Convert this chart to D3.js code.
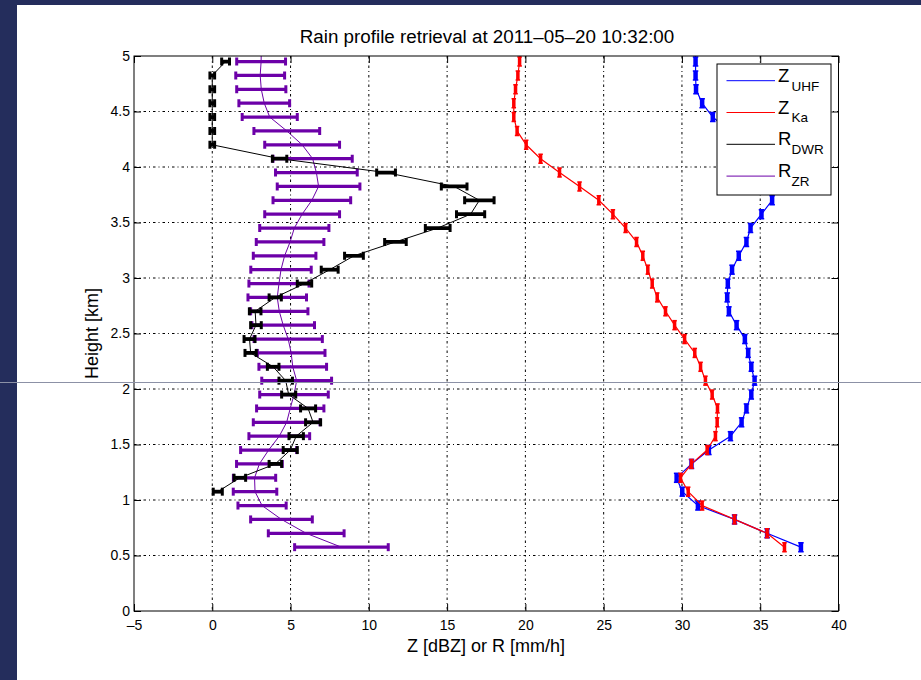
<!DOCTYPE html>
<html lang="en">
<head>
<meta charset="UTF-8">
<title>Rain profile retrieval</title>
<script src="https://cdnjs.cloudflare.com/ajax/libs/d3/7.8.5/d3.min.js"></script>
<style>
    body { margin: 0; background: #242d5c; }
    svg { display: block; }
    text { font-family: "Liberation Sans", Arial, Helvetica, sans-serif; fill: #000; }
    .tick line { stroke: #000; }
    .grid line { stroke: #000; stroke-dasharray: 2.5,3,1,3; }
</style>
</head>
<body>
<svg id="chart" width="921" height="680"></svg>
<script>
// heights of the retrieval gates [km] (top one is above the axis and gets clipped)
const heights = [5.075, 4.950, 4.825, 4.700, 4.575, 4.450, 4.325, 4.200, 4.075, 3.950,
                 3.825, 3.700, 3.575, 3.450, 3.325, 3.200, 3.075, 2.950, 2.825, 2.700,
                 2.575, 2.450, 2.325, 2.200, 2.075, 1.950, 1.825, 1.700, 1.575, 1.450,
                 1.325, 1.200, 1.075, 0.950, 0.825, 0.700, 0.575];

// reflectivities [dBZ]
const zUHF = [30.85, 30.87, 30.87, 30.90, 31.29, 31.97, 33.00, 34.20, 35.10, 35.70,
              36.00, 35.76, 35.08, 34.38, 34.12, 33.63, 33.20, 32.93, 32.89, 33.00,
              33.49, 34.02, 34.23, 34.43, 34.64, 34.43, 34.12, 33.81, 33.10, 31.72,
              30.61, 29.66, 30.02, 31.02, 33.36, 35.44, 37.60];
const zKa  = [19.72, 19.63, 19.52, 19.37, 19.26, 19.26, 19.47, 20.05, 20.97, 22.18,
              23.46, 24.69, 25.59, 26.40, 27.10, 27.50, 27.82, 28.10, 28.42, 28.95,
              29.53, 30.17, 30.82, 31.19, 31.50, 31.93, 32.27, 32.25, 32.14, 31.61,
              30.61, 29.91, 30.40, 31.29, 33.36, 35.44, 36.55];

// rain rates [mm/h] with their errors
const rDWR    = [null, 0.85, 0, 0, 0, 0, 0, 0, 4.30, 11.10,
                 15.45, 17.06, 16.50, 14.40, 11.70, 9.05, 7.50, 5.89, 4.02, 2.74,
                 2.79, 2.38, 2.45, 3.89, 4.69, 4.88, 6.12, 6.44, 5.36, 4.98,
                 4.03, 1.76, 0.35, null, null, null, null];
const rDWRErr = [null, 0.25, 0.15, 0.15, 0.15, 0.15, 0.15, 0.15, 0.46, 0.60,
                 0.82, 0.94, 0.90, 0.79, 0.69, 0.60, 0.54, 0.46, 0.39, 0.37,
                 0.34, 0.35, 0.36, 0.37, 0.43, 0.45, 0.48, 0.48, 0.46, 0.45,
                 0.40, 0.37, 0.29, null, null, null, null];
const rZR     = [3.13, 3.12, 3.06, 3.13, 3.32, 3.67, 4.76, 5.74, 6.41, 6.65,
                 6.79, 6.36, 5.74, 5.24, 4.97, 4.62, 4.39, 4.26, 4.15, 4.28,
                 4.53, 4.85, 5.04, 5.14, 5.39, 5.22, 4.98, 4.75, 4.28, 3.60,
                 3.01, 2.70, 2.73, 3.18, 4.42, 6.00, 8.25];
const rZRErr  = [1.56, 1.56, 1.56, 1.57, 1.62, 1.76, 2.10, 2.39, 2.53, 2.61,
                 2.64, 2.48, 2.39, 2.21, 2.16, 2.00, 1.93, 1.92, 1.87, 1.83,
                 2.00, 2.18, 2.16, 2.16, 2.23, 2.19, 2.15, 2.13, 1.94, 1.79,
                 1.46, 1.35, 1.39, 1.54, 1.97, 2.42, 2.99];

const xTicks = [-5, 0, 5, 10, 15, 20, 25, 30, 35, 40];
const yTicks = [0, 0.5, 1, 1.5, 2, 2.5, 3, 3.5, 4, 4.5, 5];
const legendNames = [["Z", "UHF"], ["Z", "Ka"], ["R", "DWR"], ["R", "ZR"]];
const legendColors = ["#0000ff", "#ff0000", "#000000", "#6c00a8"];

const svg = d3.select("#chart");
const pLeft = 134, pRight = 838.5, pTop = 56, pBottom = 611;

// figure background + white canvas
svg.append("rect").attr("width", 921).attr("height", 680).attr("fill", "#242d5c");
svg.append("rect").attr("x", 17).attr("y", 5).attr("width", 904).attr("height", 675).attr("fill", "#fff");

const x = d3.scaleLinear().domain([-5, 40]).range([pLeft, pRight]);
const y = d3.scaleLinear().domain([0, 5]).range([pBottom, pTop]);
const fmt = d => d < 0 ? "\u2013" + Math.abs(d) : String(d);

// grid
svg.append("g").attr("class", "grid")
    .selectAll("line").data(xTicks.slice(1, -1)).enter().append("line")
    .attr("x1", d => x(d)).attr("x2", d => x(d)).attr("y1", pTop).attr("y2", pBottom);
svg.append("g").attr("class", "grid")
    .selectAll("line").data(yTicks.slice(1, -1)).enter().append("line")
    .attr("y1", d => y(d)).attr("y2", d => y(d)).attr("x1", pLeft).attr("x2", pRight);

// axes (ticks pointing inwards on all four sides)
const axB = svg.append("g").attr("transform", `translate(0,${pBottom})`)
    .call(d3.axisBottom(x).tickValues(xTicks).tickFormat(fmt).tickSizeInner(-7).tickSizeOuter(0).tickPadding(9));
const axT = svg.append("g").attr("transform", `translate(0,${pTop})`)
    .call(d3.axisTop(x).tickValues(xTicks).tickFormat("").tickSizeInner(-7).tickSizeOuter(0));
const axL = svg.append("g").attr("transform", `translate(${pLeft},0)`)
    .call(d3.axisLeft(y).tickValues(yTicks).tickFormat(fmt).tickSizeInner(-7).tickSizeOuter(0).tickPadding(4));
const axR = svg.append("g").attr("transform", `translate(${pRight},0)`)
    .call(d3.axisRight(y).tickValues(yTicks).tickFormat("").tickSizeInner(-7).tickSizeOuter(0));
[axB, axT, axL, axR].forEach(a => {
    a.select(".domain").remove();
    a.selectAll("text").style("font-size", "14px").attr("fill", "#000");
});

// data layer
svg.append("clipPath").attr("id", "plotclip").append("rect")
    .attr("x", pLeft).attr("y", pTop).attr("width", pRight - pLeft).attr("height", pBottom - pTop);
const plot = svg.append("g").attr("clip-path", "url(#plotclip)");

function series(vals) {
    return heights.map((h, i) => ({ h: h, v: vals[i] }));
}
const line = d3.line().defined(d => d.v != null).x(d => x(d.v)).y(d => y(d.h));

// vertical (Z) error bars: small I-shaped marks
function zSeries(vals, color, w) {
    const data = series(vals);
    plot.append("path").datum(data).attr("d", line)
        .attr("fill", "none").attr("stroke", color).attr("stroke-width", 1.2);
    const g = plot.append("g").attr("stroke", color);
    g.selectAll(".bar").data(data).enter().append("line")
        .attr("x1", d => x(d.v)).attr("x2", d => x(d.v))
        .attr("y1", d => y(d.h) - 4.5).attr("y2", d => y(d.h) + 4.5)
        .attr("stroke-width", w);
    [-4.5, 4.5].forEach(off => {
        g.selectAll(".cap" + (off > 0 ? "b" : "t")).data(data).enter().append("line")
            .attr("x1", d => x(d.v) - w / 2 - 0.5).attr("x2", d => x(d.v) + w / 2 + 0.5)
            .attr("y1", d => y(d.h) + off).attr("y2", d => y(d.h) + off)
            .attr("stroke-width", 1.5);
    });
}

// horizontal (R) error bars
function rSeries(vals, errs, color, bw) {
    const data = series(vals).map((d, i) => ({ h: d.h, v: d.v, e: errs[i] }));
    const pts = data.filter(d => d.v != null);
    const g = plot.append("g").attr("stroke", color);
    g.selectAll(".bar").data(pts).enter().append("line")
        .attr("x1", d => x(d.v - d.e)).attr("x2", d => x(d.v + d.e))
        .attr("y1", d => y(d.h)).attr("y2", d => y(d.h))
        .attr("stroke-width", bw);
    g.selectAll(".capl").data(pts).enter().append("line")
        .attr("x1", d => x(d.v - d.e)).attr("x2", d => x(d.v - d.e))
        .attr("y1", d => y(d.h) - 4).attr("y2", d => y(d.h) + 4)
        .attr("stroke-width", 3);
    g.selectAll(".capr").data(pts).enter().append("line")
        .attr("x1", d => x(d.v + d.e)).attr("x2", d => x(d.v + d.e))
        .attr("y1", d => y(d.h) - 4).attr("y2", d => y(d.h) + 4)
        .attr("stroke-width", 3);
    plot.append("path").datum(data).attr("d", line)
        .attr("fill", "none").attr("stroke", color).attr("stroke-width", 1);
}

zSeries(zUHF, legendColors[0], 4.5);
zSeries(zKa, legendColors[1], 3.5);
rSeries(rZR, rZRErr, legendColors[3], 3.2);
rSeries(rDWR, rDWRErr, legendColors[2], 3.8);

// axes box
svg.append("rect").attr("x", pLeft).attr("y", pTop).attr("width", pRight - pLeft).attr("height", pBottom - pTop)
    .attr("fill", "none").attr("stroke", "#000").attr("stroke-width", 1);

// legend
const lg = svg.append("g").attr("transform", "translate(717,64)");
lg.append("rect").attr("width", 114).attr("height", 131).attr("fill", "#fff").attr("stroke", "#000");
const rows = lg.selectAll(".row").data(legendNames).enter().append("g")
    .attr("transform", (d, i) => `translate(0,${16.7 + i * 31.8})`);
rows.append("line").attr("x1", 9.5).attr("x2", 58).attr("stroke", (d, i) => legendColors[i]).attr("stroke-width", 1);
rows.append("text").attr("x", 61).attr("y", 1).style("font-size", "18.5px").text(d => d[0]);
rows.append("text").attr("x", 74.5).attr("y", 9.8).style("font-size", "13.5px").text(d => d[1]);

// titles
svg.append("text").attr("x", 487).attr("y", 43).attr("text-anchor", "middle")
    .style("font-size", "18.8px").text("Rain profile retrieval at 2011\u201305\u201320 10:32:00");
svg.append("text").attr("x", 486).attr("y", 651.5).attr("text-anchor", "middle")
    .style("font-size", "18px").text("Z [dBZ] or R [mm/h]");
svg.append("text").attr("transform", "translate(98,333.5) rotate(-90)").attr("text-anchor", "middle")
    .style("font-size", "18px").text("Height [km]");

// thin grey scan line across the screenshot
svg.append("line").attr("x1", 0).attr("x2", 921).attr("y1", 382.5).attr("y2", 382.5)
    .attr("stroke", "#8c91a6").attr("stroke-width", 1);
</script>
</body>
</html>
